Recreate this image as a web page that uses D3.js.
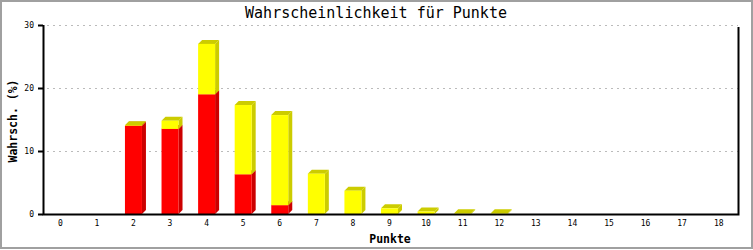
<!DOCTYPE html>
<html>
<head>
<meta charset="utf-8">
<script src="https://cdn.jsdelivr.net/npm/d3@7"></script>
<style>
  body { margin: 0; background: #fff; }
</style>
</head>
<body>
<div class="chart"></div>
<script>
const WIDTH = 753;
const HEIGHT = 250;
const DEPTH = 4;

const points = ['0', '1', '2', '3', '4', '5', '6', '7', '8', '9', '10', '11', '12', '13', '14', '15', '16', '17', '18'];
const redValues = [0, 0, 14.0, 13.5, 19.0, 6.3, 1.4, 0, 0, 0, 0, 0, 0, 0, 0, 0, 0, 0, 0];
const yellowValues = [0, 0, 0.1, 1.3, 8.0, 11.0, 14.3, 6.4, 3.7, 0.9, 0.4, 0.1, 0.1, 0, 0, 0, 0, 0, 0];
const yTicks = [0, 10, 20, 30];

const margin = { left: 43, right: 15, top: 25, bottom: 36 };

const svg = d3.select('.chart')
  .append('svg')
  .attr('width', WIDTH)
  .attr('height', HEIGHT)
  .style('display', 'block');

// outer frame
svg.append('rect')
  .attr('x', 1)
  .attr('y', 1)
  .attr('width', WIDTH - 2)
  .attr('height', HEIGHT - 3)
  .style('fill', 'none')
  .style('stroke', '#a0a0a0')
  .style('stroke-width', 2);

const x = d3.scaleBand()
  .domain(points)
  .range([margin.left, WIDTH - margin.right]);

const y = d3.scaleLinear()
  .domain([0, 30])
  .range([HEIGHT - margin.bottom, margin.top]);

// dotted grid
svg.append('g')
  .selectAll('line')
  .data(yTicks.filter((t) => t > 0))
  .enter()
  .append('line')
  .attr('x1', margin.left + 4)
  .attr('x2', WIDTH - margin.right)
  .attr('y1', (d) => y(d) + 0.5)
  .attr('y2', (d) => y(d) + 0.5)
  .style('stroke', '#bbbbbb')
  .style('stroke-dasharray', '2,4');

// stacked segments
const stacked = points.map((p, i) => ({
  key: p,
  segments: [
    { lo: 0, hi: redValues[i], front: '#ff0000', dark: '#cc0000' },
    { lo: redValues[i], hi: redValues[i] + yellowValues[i], front: '#ffff00', dark: '#cccc00' },
  ],
}));

const barW = 17;
const bars = svg.append('g');

stacked.forEach((bar) => {
  const x0 = x(bar.key) + x.bandwidth() / 2 - barW / 2 - 1;
  bar.segments.forEach((s) => {
    if (s.hi - s.lo <= 0) return;
    const yTop = y(s.hi);
    const yBot = y(s.lo);
    // side face
    bars.append('path')
      .attr('d', `M${x0 + barW},${yBot} L${x0 + barW + DEPTH},${yBot - DEPTH} L${x0 + barW + DEPTH},${yTop - DEPTH} L${x0 + barW},${yTop} Z`)
      .style('fill', s.dark);
    // top face
    bars.append('path')
      .attr('d', `M${x0},${yTop} L${x0 + DEPTH},${yTop - DEPTH} L${x0 + barW + DEPTH},${yTop - DEPTH} L${x0 + barW},${yTop} Z`)
      .style('fill', s.dark);
    // front face
    bars.append('rect')
      .attr('x', x0)
      .attr('y', yTop)
      .attr('width', barW)
      .attr('height', yBot - yTop)
      .style('fill', s.front);
  });
});

// plot frame: left axis, bottom axis, right line
svg.append('path')
  .attr('d', `M${margin.left + 0.5},${y(30)} V${y(0) + 0.5} H${WIDTH - margin.right + 0.5} V${y(30) + 2}`)
  .style('fill', 'none')
  .style('stroke', '#000')
  .style('stroke-width', 2);

// y ticks and labels
const yAxis = svg.append('g');
yAxis.selectAll('line')
  .data(yTicks)
  .enter()
  .append('line')
  .attr('x1', margin.left - 5)
  .attr('x2', margin.left)
  .attr('y1', (d) => y(d) + 0.5)
  .attr('y2', (d) => y(d) + 0.5)
  .style('stroke', '#000')
  .style('stroke-width', 2);

yAxis.selectAll('text')
  .data(yTicks)
  .enter()
  .append('text')
  .attr('x', margin.left - 9)
  .attr('y', (d) => y(d) + 3)
  .text((d) => d)
  .style('text-anchor', 'end')
  .style('font-family', 'DejaVu Sans Mono, monospace')
  .style('font-size', '8px');

// x labels
svg.append('g')
  .selectAll('text')
  .data(points)
  .enter()
  .append('text')
  .attr('x', (d) => x(d) + x.bandwidth() / 2 - 1)
  .attr('y', y(0) + 12)
  .text((d) => d)
  .style('text-anchor', 'middle')
  .style('font-family', 'DejaVu Sans Mono, monospace')
  .style('font-size', '8px');

// titles
svg.append('text')
  .attr('x', 376)
  .attr('y', 18)
  .text('Wahrscheinlichkeit für Punkte')
  .style('text-anchor', 'middle')
  .style('font-family', 'DejaVu Sans Mono, monospace')
  .style('font-size', '15px');

svg.append('text')
  .attr('x', 390)
  .attr('y', 243)
  .text('Punkte')
  .style('text-anchor', 'middle')
  .style('font-family', 'DejaVu Sans Mono, monospace')
  .style('font-weight', 'bold')
  .style('font-size', '11.5px');

svg.append('text')
  .attr('transform', 'translate(17, 121) rotate(-90)')
  .text('Wahrsch. (%)')
  .style('text-anchor', 'middle')
  .style('font-family', 'DejaVu Sans Mono, monospace')
  .style('font-weight', 'bold')
  .style('font-size', '11.5px');
</script>
</body>
</html>
